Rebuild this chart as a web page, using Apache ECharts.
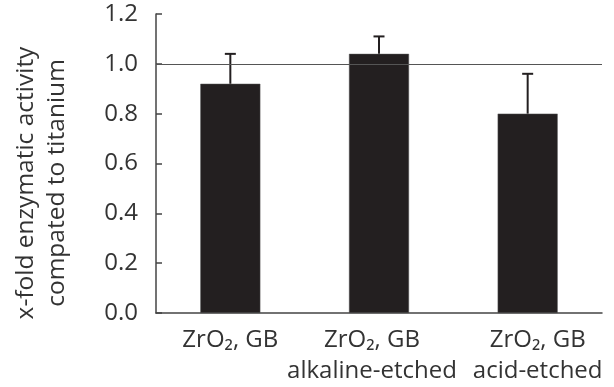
<!DOCTYPE html>
<html>
<head>
<meta charset="utf-8">
<script src="https://cdn.jsdelivr.net/npm/echarts@6/dist/echarts.min.js"></script>
<style>
  html, body { margin: 0; padding: 0; background: #fff; }
  #chart { width: 614px; height: 387px; }
</style>
</head>
<body>
<div id="chart"></div>
<script>
// categories and values
var categories = ['ZrO\u2082, GB', 'ZrO\u2082, GB\nalkaline-etched', 'ZrO\u2082, GB\nacid-etched'];
var activity = [0.92, 1.04, 0.80];
var errUp = [0.12, 0.07, 0.16];
var yTicks = [0, 0.2, 0.4, 0.6, 0.8, 1.0, 1.2];
var refValue = 1.0;

var dark = '#231f20';
var font = 'Open Sans';
// the labels in the original sit a little off their bars
var labelShift = [0, -7, 10];

var chart = echarts.init(document.getElementById('chart'));

var option = {
  animation: false,
  textStyle: { fontFamily: font },
  grid: { left: 156, right: 12, top: 14, bottom: 72 },
  graphic: [{
    type: 'text',
    x: 42,
    y: 183,
    rotation: Math.PI / 2,
    style: {
      text: 'x-fold enzymatic activity\ncompated to titanium',
      font: '24.5px "Open Sans"',
      fill: '#333',
      align: 'center',
      verticalAlign: 'middle',
      lineHeight: 31
    }
  }],
  xAxis: {
    type: 'category',
    data: categories.map(function (c, i) {
      var s = labelShift[i];
      return {
        value: c,
        textStyle: { padding: [0, s < 0 ? -2 * s : 0, 0, s > 0 ? 2 * s : 0] }
      };
    }),
    axisLine: { lineStyle: { color: '#444', width: 1.5 } },
    axisTick: { show: false },
    axisLabel: {
      color: '#333',
      fontSize: 24,
      fontFamily: font,
      lineHeight: 31,
      margin: 12,
      interval: 0
    }
  },
  yAxis: {
    type: 'value',
    min: yTicks[0],
    max: yTicks[yTicks.length - 1],
    interval: 0.2,
    axisLine: { show: true, lineStyle: { color: '#444', width: 1.5 } },
    axisTick: { show: true, inside: true, length: 6, lineStyle: { color: '#444', width: 1.5 } },
    splitLine: { show: false },
    axisLabel: {
      color: '#333',
      fontSize: 24,
      fontFamily: font,
      margin: 18,
      formatter: function (v) { return v.toFixed(1); }
    }
  },
  series: [
    {
      type: 'bar',
      data: activity,
      barWidth: 60,
      itemStyle: { color: dark, borderColor: '#555', borderWidth: 0.5 },
      markLine: {
        silent: true,
        symbol: 'none',
        label: { show: false },
        lineStyle: { color: '#555', width: 1, type: 'solid' },
        data: [{ yAxis: refValue }]
      }
    },
    {
      type: 'custom',
      data: activity.map(function (v, i) { return [i, v, v + errUp[i]]; }),
      z: 3,
      renderItem: function (params, api) {
        var base = api.coord([api.value(0), api.value(1)]);
        var top = api.coord([api.value(0), api.value(2)]);
        var half = 5.5;
        var st = { stroke: dark, lineWidth: 2 };
        return {
          type: 'group',
          children: [
            { type: 'line', shape: { x1: base[0], y1: base[1], x2: top[0], y2: top[1] }, style: st },
            { type: 'line', shape: { x1: top[0] - half, y1: top[1], x2: top[0] + half, y2: top[1] }, style: st }
          ]
        };
      }
    }
  ]
};

chart.setOption(option);
</script>
</body>
</html>
